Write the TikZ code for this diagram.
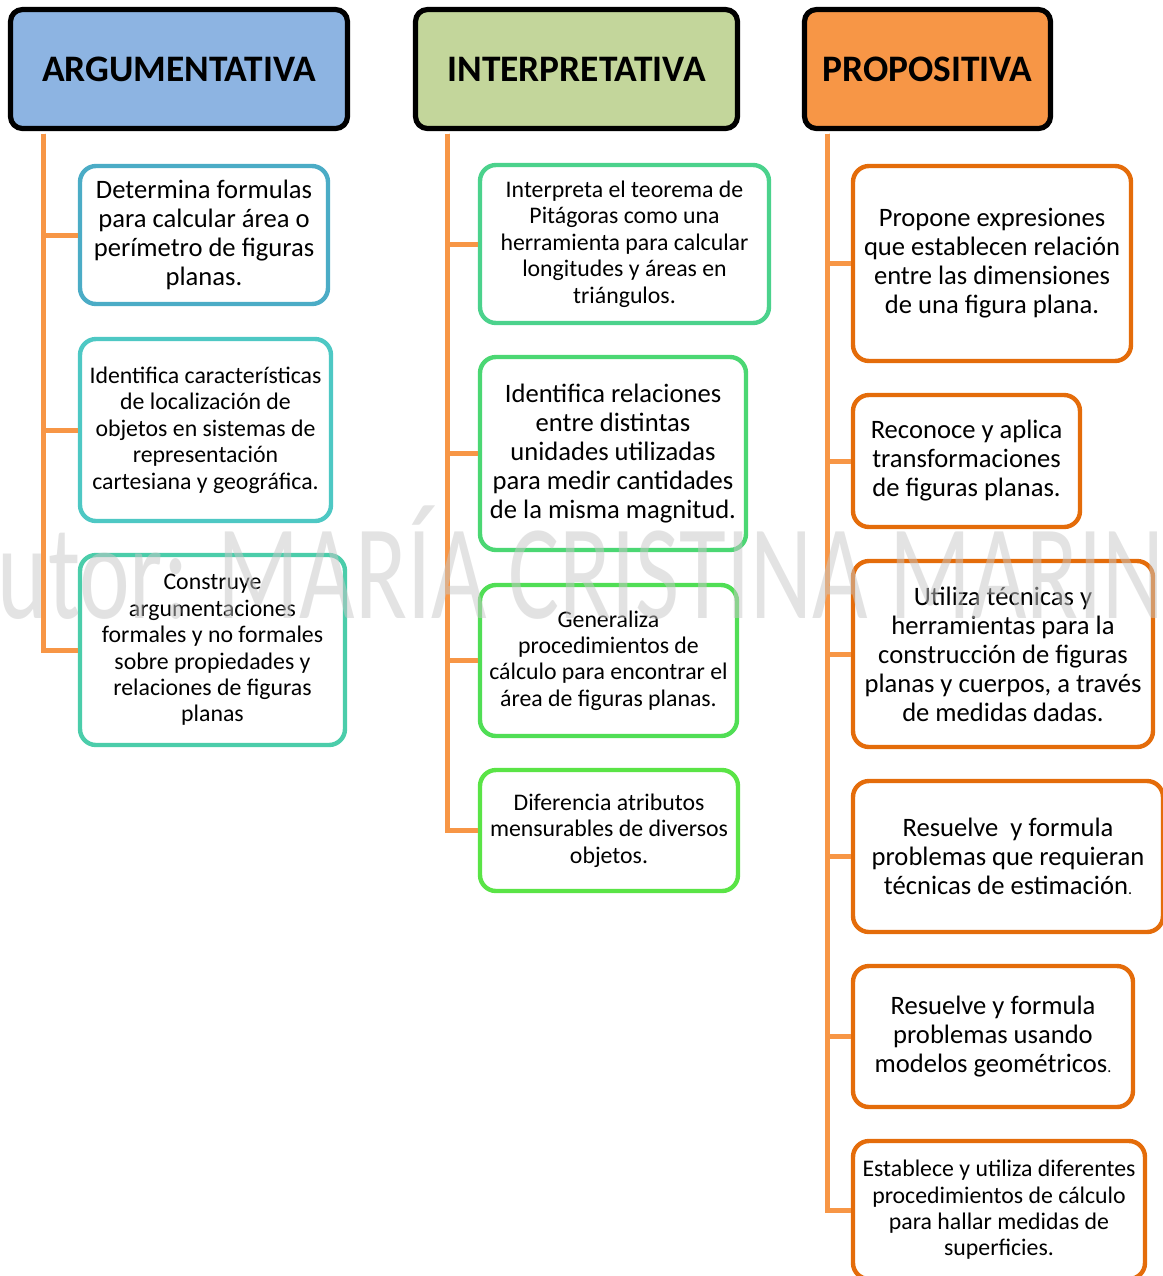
\documentclass[tikz,border=0pt]{standalone}
\usepackage{fontspec}
\setmainfont{Carlito}
\usepackage{xcolor}
\definecolor{argblue}{RGB}{141,180,226}
\definecolor{intgreen}{RGB}{195,214,155}
\definecolor{proporange}{RGB}{247,150,70}
\definecolor{trunkorange}{RGB}{247,150,70}
\definecolor{edgeorange}{RGB}{228,108,10}
\definecolor{teal1}{RGB}{75,172,198}
\definecolor{teal2}{RGB}{78,200,196}
\definecolor{teal3}{RGB}{75,205,170}
\definecolor{green1}{RGB}{75,210,140}
\definecolor{green2}{RGB}{75,215,115}
\definecolor{green3}{RGB}{80,222,85}
\definecolor{green4}{RGB}{90,228,70}
\usepackage{tikz}
\newcommand{\bigtext}{\fontsize{13.3}{14.5}\selectfont}
\newcommand{\smalltext}{\fontsize{11.9}{13.2}\selectfont}
\newcommand{\tinydot}{{\fontsize{8}{8}\selectfont.}}
\tikzset{
    common/.style={draw, rectangle, align=center, inner sep=2pt, fill=white},
    topic/.style={common, draw=black, line width=2.6pt, rounded corners=6pt, minimum height=59.5pt,
        font=\fontsize{18.7}{20}\selectfont\bfseries},
    skill/.style={common, line width=2.2pt, rounded corners=8pt, font=\bigtext},
    skill-small/.style={skill, font=\smalltext},
    trunk/.style={line width=2.5pt, trunkorange},
    watermark/.style={anchor=base west, inner sep=0pt, text=black!22, opacity=0.5,
        font=\fontsize{67.5}{70}\selectfont}
}

\begin{document}
\begin{tikzpicture}[x=0.5pt, y=-0.5pt]
    \useasboundingbox (0,0) rectangle (1163,1276);

    % column headers
    \node[topic, fill=argblue, minimum width=168.5pt] (arg) at (179,69) {ARGUMENTATIVA};
    \node[topic, fill=intgreen, minimum width=161pt] (int) at (576.5,69) {INTERPRETATIVA};
    \node[topic, fill=proporange, minimum width=123pt] (prop) at (927.5,69) {PROPOSITIVA};

    % argumentativa
    \node[skill, draw=teal1, minimum width=124pt, minimum height=69pt] (arg-1) at (204,235)
        {Determina formulas\\para calcular área o\\perímetro de figuras\\planas.};
    \node[skill-small, draw=teal2, minimum width=125.5pt, minimum height=91pt] (arg-2) at (205.5,430)
        {Identifica características\\de localización de\\objetos en sistemas de\\representación\\cartesiana y geográfica.};
    \node[skill-small, draw=teal3, minimum width=132.5pt, minimum height=95pt] (arg-3) at (212.5,650)
        {Construye\\argumentaciones\\formales y no formales\\sobre propiedades y\\relaciones de figuras\\planas};

    % interpretativa
    \node[skill-small, draw=green1, minimum width=144.5pt, minimum height=79pt] (int-1) at (624.5,244)
        {Interpreta el teorema de\\Pitágoras como una\\herramienta para calcular\\longitudes y áreas en\\triángulos.};
    \node[skill, draw=green2, minimum width=133pt, minimum height=96.5pt] (int-2) at (613,453.5)
        {Identifica relaciones\\entre distintas\\unidades utilizadas\\para medir cantidades\\de la misma magnitud.};
    \node[skill-small, draw=green3, minimum width=128.5pt, minimum height=75.5pt] (int-3) at (608.5,660.5)
        {Generaliza\\procedimientos de\\cálculo para encontrar el\\área de figuras planas.};
    \node[skill-small, draw=green4, minimum width=129pt, minimum height=60.5pt] (int-4) at (609,830.5)
        {Diferencia atributos\\mensurables de diversos\\objetos.};

    % propositiva
    \node[skill, draw=edgeorange, minimum width=139pt, minimum height=97.5pt] (prop-1) at (992,263.5)
        {Propone expresiones\\que establecen relación\\entre las dimensiones\\de una figura plana.};
    \node[skill, draw=edgeorange, minimum width=113.5pt, minimum height=66pt] (prop-2) at (966.5,461)
        {Reconoce y aplica\\transformaciones\\de figuras planas.};
    \node[skill, draw=edgeorange, minimum width=150pt, minimum height=93pt] (prop-3) at (1003,654)
        {Utiliza técnicas y\\herramientas para la\\construcción de figuras\\planas y cuerpos, a través\\de medidas dadas.};
    \node[skill, draw=edgeorange, minimum width=155pt, minimum height=75.5pt] (prop-4) at (1008,856.5)
        {Resuelve\ \ y formula\\problemas que requieran\\técnicas de estimación\tinydot};
    \node[skill, draw=edgeorange, minimum width=140pt, minimum height=70.5pt] (prop-5) at (993,1036.5)
        {Resuelve y formula\\problemas usando\\modelos geométricos\tinydot};
    \node[skill-small, draw=edgeorange, minimum width=146pt, minimum height=69pt] (prop-6) at (999,1210)
        {Establece y utiliza diferentes\\procedimientos de cálculo\\para hallar medidas de\\superficies.};

    % trunks and branches
    \coordinate (arg-x) at (43,0);
    \coordinate (int-x) at (447,0);
    \coordinate (prop-x) at (827,0);
    \foreach \s in {arg-1,arg-2,arg-3}
        \draw[trunk] (arg-x |- arg.south) ++(0,2.6) |- (\s.west);
    \foreach \s in {int-1,int-2,int-3,int-4}
        \draw[trunk] (int-x |- int.south) ++(0,2.6) |- (\s.west);
    \foreach \s in {prop-1,prop-2,prop-3,prop-4,prop-5,prop-6}
        \draw[trunk] (prop-x |- prop.south) ++(0,2.6) |- (\s.west);

    \node[watermark] (mark) at (-58,618) {\scalebox{0.71}[1]{Autor: MARÍA CRISTINA MARIN}};
\end{tikzpicture}
\end{document}
